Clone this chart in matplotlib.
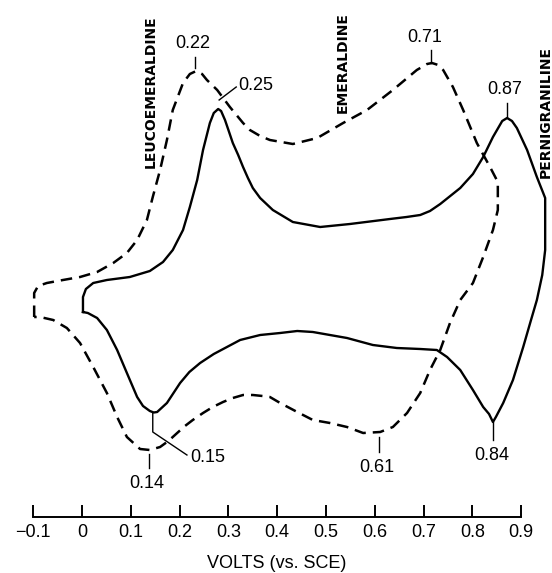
import numpy as np
import matplotlib
matplotlib.use("Agg")
import matplotlib.pyplot as plt

# cyclic voltammograms of polyaniline, potential in V vs SCE, current in arbitrary units
# solid: scan from 0 to 0.95 V
solid_v = [0.002, 0.002, 0.008, 0.023, 0.051, 0.098, 0.139, 0.166, 0.186, 0.207,
           0.221, 0.236, 0.248, 0.262, 0.270, 0.279, 0.285, 0.293, 0.300, 0.309,
           0.320, 0.330, 0.340, 0.350, 0.365, 0.391, 0.432, 0.488, 0.549, 0.631,
           0.665, 0.693, 0.713, 0.734, 0.775, 0.801, 0.822, 0.842, 0.861, 0.871,
           0.881, 0.891, 0.912, 0.932, 0.945, 0.949, 0.949, 0.943, 0.932, 0.920,
           0.904, 0.883, 0.863, 0.848, 0.842, 0.834, 0.822, 0.801, 0.775, 0.748,
           0.727, 0.693, 0.645, 0.596, 0.543, 0.473, 0.441, 0.406, 0.365, 0.324,
           0.297, 0.270, 0.242, 0.220, 0.201, 0.174, 0.154, 0.147, 0.139, 0.125,
           0.113, 0.092, 0.072, 0.051, 0.031, 0.012, 0.002]
solid_i = [-1.2, 0.3, 1.1, 1.7, 2.0, 2.3, 2.9, 3.8, 5.0, 7.0,
           9.3, 12.0, 15.0, 17.7, 18.7, 19.1, 18.9, 18.0, 17.0, 15.7,
           14.5, 13.3, 12.2, 11.2, 10.2, 9.0, 7.8, 7.3, 7.6, 8.1,
           8.3, 8.5, 8.9, 9.6, 11.2, 12.6, 14.3, 16.3, 17.9, 18.2,
           17.9, 17.2, 15.0, 12.3, 10.7, 10.2, 5.0, 2.5, 0.0, -2.0,
           -4.7, -8.0, -10.3, -11.7, -12.2, -11.4, -10.7, -9.0, -7.0, -5.7,
           -5.0, -4.9, -4.8, -4.5, -3.8, -3.2, -3.1, -3.3, -3.5, -4.0,
           -4.7, -5.4, -6.3, -7.2, -8.3, -10.3, -11.2, -11.25, -11.1, -10.6,
           -9.7, -7.3, -5.0, -3.0, -1.8, -1.3, -1.2]

# dashed: scan from -0.1 to 0.85 V
dash_v = [-0.098, -0.098, -0.090, -0.072, -0.039, -0.004, 0.031, 0.064, 0.092, 0.113,
          0.133, 0.145, 0.160, 0.174, 0.186, 0.207, 0.221, 0.234, 0.246, 0.256,
          0.277, 0.303, 0.330, 0.344, 0.365, 0.385, 0.432, 0.482, 0.535, 0.584,
          0.637, 0.686, 0.707, 0.717, 0.730, 0.740, 0.760, 0.781, 0.809, 0.836,
          0.852, 0.852, 0.842, 0.822, 0.801, 0.775, 0.754, 0.734, 0.713, 0.693,
          0.666, 0.637, 0.611, 0.576, 0.543, 0.508, 0.473, 0.441, 0.406, 0.385,
          0.370, 0.350, 0.330, 0.309, 0.289, 0.268, 0.248, 0.227, 0.211, 0.195,
          0.177, 0.160, 0.139, 0.119, 0.092, 0.072, 0.051, 0.023, -0.004, -0.031,
          -0.059, -0.086, -0.098]
dash_i = [-1.7, 0.7, 1.4, 1.7, 2.0, 2.3, 2.8, 3.7, 4.7, 6.0,
          8.0, 10.3, 13.0, 16.0, 19.0, 21.7, 22.6, 22.9, 22.6, 22.0,
          21.0, 19.3, 17.7, 17.0, 16.4, 16.0, 15.6, 16.2, 17.7, 19.0,
          21.0, 23.0, 23.6, 23.7, 23.5, 23.0, 21.3, 19.0, 15.7, 13.3,
          11.8, 9.0, 7.0, 4.3, 1.7, 0.0, -2.3, -5.0, -7.0, -9.3,
          -11.3, -12.7, -13.2, -13.3, -12.7, -12.3, -12.0, -11.2, -10.3, -9.7,
          -9.6, -9.5, -9.5, -9.8, -10.2, -10.7, -11.3, -12.0, -12.6, -13.3,
          -14.1, -14.7, -15.0, -14.9, -13.7, -11.7, -9.3, -6.7, -4.3, -2.8,
          -2.0, -1.7, -1.7]

tick_vals = [-0.1, 0, 0.1, 0.2, 0.3, 0.4, 0.5, 0.6, 0.7, 0.8, 0.9]
tick_text = ["\u22120.1", "0", "0.1", "0.2", "0.3", "0.4", "0.5", "0.6", "0.7", "0.8", "0.9"]

peak_labels = ["0.22", "0.25", "0.71", "0.87", "0.15", "0.14", "0.61", "0.84"]
states = ["LEUCOEMERALDINE", "EMERALDINE", "PERNIGRANILINE"]

num_font = ["Liberation Sans", "DejaVu Sans"]
bold_font = ["Liberation Sans Narrow", "DejaVu Sans"]

fig = plt.figure(figsize=(5.52, 5.73), dpi=100)
ax = fig.add_axes([0, 0, 1, 1])
ax.set_xlim(-0.168, 0.963)
ax.set_ylim(-27.3, 30.0)

ax.plot(solid_v, solid_i, color="black", lw=1.7, solid_joinstyle="round")
ax.plot(dash_v, dash_i, color="black", lw=1.8, linestyle=(0, (4.6, 2.8)))

# peak labels with leader lines
txt_pos = [(0.227, 25.7), (0.320, 21.5), (0.703, 26.3), (0.867, 21.0),
           (0.221, -15.7), (0.133, -18.3), (0.605, -16.7), (0.840, -15.5)]
leaders = [([0.232, 0.232], [24.3, 23.2]),
           ([0.281, 0.316], [20.0, 21.3]),
           ([0.715, 0.715], [25.0, 23.7]),
           ([0.871, 0.871], [19.7, 18.3]),
           ([0.145, 0.145, 0.215], [-11.3, -13.2, -15.5]),
           ([0.137, 0.137], [-15.4, -16.8]),
           ([0.609, 0.609], [-13.7, -15.2]),
           ([0.842, 0.842], [-12.2, -14.0])]
for k, lab in enumerate(peak_labels):
    ha = "left" if lab in ("0.25", "0.15") else "center"
    ax.text(txt_pos[k][0], txt_pos[k][1], lab, ha=ha, va="center",
            fontsize=13, family=num_font)
    ax.plot(leaders[k][0], leaders[k][1], color="black", lw=1.0)

state_pos = [(0.141, 20.8), (0.535, 23.7), (0.950, 18.8)]
for k, s in enumerate(states):
    ax.text(state_pos[k][0], state_pos[k][1], s, rotation=90, ha="center", va="center",
            fontsize=10, fontweight="bold", family=bold_font)

# x axis only
for side in ["top", "left", "right"]:
    ax.spines[side].set_visible(False)
ax.spines["bottom"].set_position(("data", -21.7))
ax.spines["bottom"].set_bounds(-0.1, 0.9)
ax.spines["bottom"].set_linewidth(1.4)
ax.set_yticks([])
ax.set_xticks(tick_vals)
ax.set_xticklabels(tick_text, family=num_font, fontsize=13)
ax.tick_params(axis="x", direction="in", length=8.5, width=1.4, pad=5)
ax.set_xlabel("VOLTS (vs. SCE)", fontsize=13, family=num_font)
ax.xaxis.set_label_coords(0.502, 0.032)

fig.savefig("out.png", dpi=100)
